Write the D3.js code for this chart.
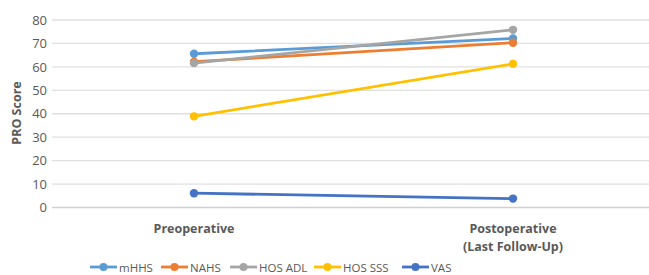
<!DOCTYPE html>
<html><head><meta charset="utf-8">
<script src="https://cdn.jsdelivr.net/npm/d3@7"></script>
<style>body{margin:0;background:#fff;} text{font-family:"Open Sans","Liberation Sans",sans-serif;}</style>
</head><body><svg id="c" width="649" height="275"></svg>
<script>
const categories = ["Preoperative", "Postoperative\n(Last Follow-Up)"];
const seriesNames = ["mHHS", "NAHS", "HOS ADL", "HOS SSS", "VAS"];
const mHHS = [65.6, 72.1];
const NAHS = [62.2, 70.3];
const HOS_ADL = [61.6, 75.8];
const HOS_SSS = [38.9, 61.3];
const VAS = [6.1, 3.8];
const yTicks = [0, 10, 20, 30, 40, 50, 60, 70, 80];
const colors = ["#5B9BD5", "#ED7D31", "#A5A5A5", "#FFC000", "#4472C4"];
const values = [mHHS, NAHS, HOS_ADL, HOS_SSS, VAS];

const svg = d3.select("#c");
const y = d3.scaleLinear().domain([0, 80]).range([207.5, 20]);
const x = d3.scalePoint().domain(categories).range([194, 513]);
const gridX0 = 52, gridX1 = 649;

// gridlines
svg.append("g").selectAll("line").data(yTicks).join("line")
  .attr("x1", gridX0).attr("x2", gridX1)
  .attr("y1", d => y(d)).attr("y2", d => y(d))
  .attr("stroke", d => d === 0 ? "#d0d0d0" : "#e0e0e0").attr("stroke-width", 1.3);

// y labels
const yAxis = d3.axisLeft(y).tickValues(yTicks).tickSize(0).tickPadding(0);
const ya = svg.append("g").attr("transform", `translate(47,0)`).call(yAxis);
ya.select(".domain").remove();
ya.selectAll("text").attr("fill", "#595959").style("font-size", "13px").style("font-family", "'Open Sans',sans-serif");

// y title
svg.append("text").attr("transform", "translate(21,113) rotate(-90)")
  .attr("text-anchor", "middle").attr("fill", "#595959")
  .style("font-size", "12.5px").style("font-weight", "bold").text("PRO Score");

// x labels
categories.forEach(c => {
  const lines = c.split("\n");
  const t = svg.append("text").attr("text-anchor", "middle").attr("fill", "#595959")
    .style("font-size", "12.5px").style("font-weight", "bold");
  lines.forEach((l, i) => t.append("tspan").attr("x", x(c)).attr("y", 233 + i * 18).text(l));
});

// series
const line = d3.line().x((d, i) => x(categories[i])).y(d => y(d));
values.forEach((vals, si) => {
  const g = svg.append("g");
  g.append("path").datum(vals).attr("d", line).attr("fill", "none")
    .attr("stroke", colors[si]).attr("stroke-width", 2.8).attr("stroke-linecap", "round");
  g.selectAll("circle").data(vals).join("circle")
    .attr("cx", (d, i) => x(categories[i])).attr("cy", d => y(d)).attr("r", 4.2)
    .attr("fill", colors[si]);
});

// legend
const legX = [90, 161, 230, 314, 402];
const lg = svg.append("g");
seriesNames.forEach((n, i) => {
  const gx = legX[i], gy = 267;
  lg.append("line").attr("x1", gx).attr("x2", gx + 27).attr("y1", gy).attr("y2", gy)
    .attr("stroke", colors[i]).attr("stroke-width", 2.8);
  lg.append("circle").attr("cx", gx + 13.5).attr("cy", gy).attr("r", 4).attr("fill", colors[i]);
  lg.append("text").attr("x", gx + 29).attr("y", gy + 4.5).attr("fill", "#595959")
    .style("font-size", "11.5px").text(n);
});
</script></body></html>
